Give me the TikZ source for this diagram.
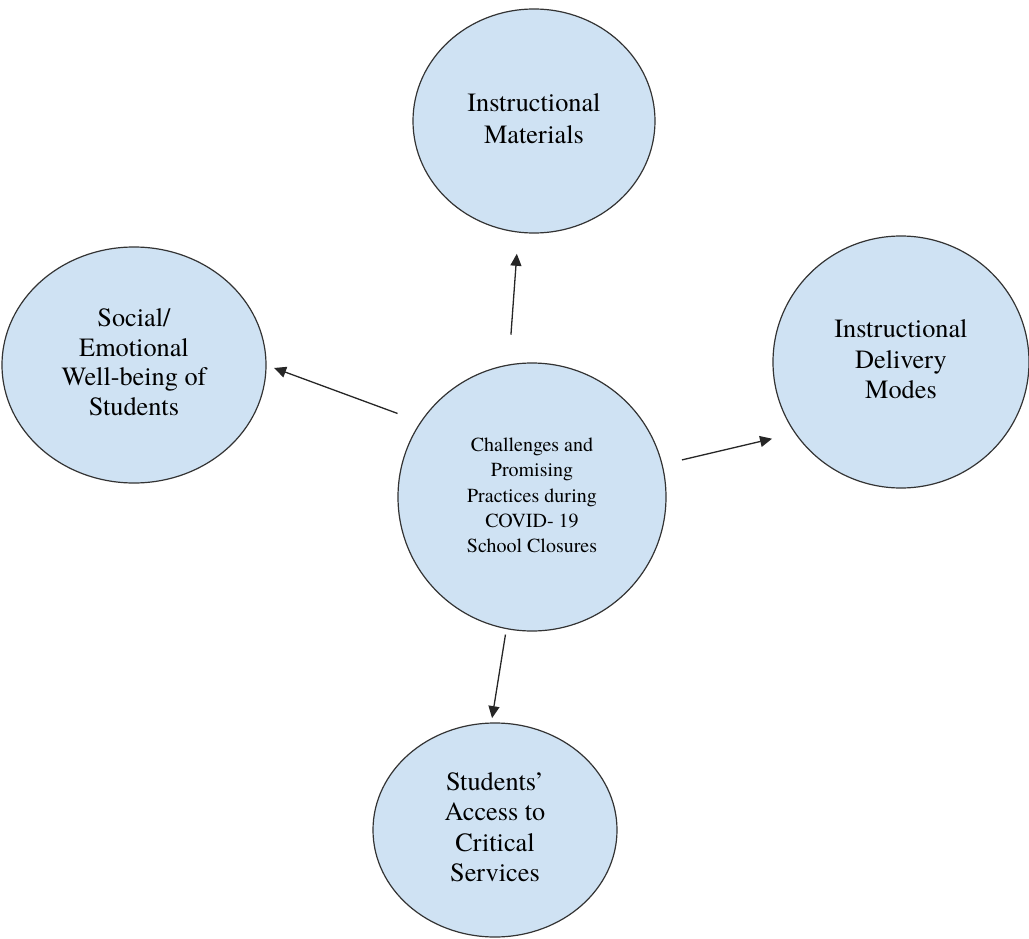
\documentclass[tikz,border=0pt]{standalone}
\usepackage{fontspec}
\usepackage{graphicx}
\newfontfamily\tnr{texgyretermes-regular.otf}
\newcommand{\bubtext}[3]{\scalebox{#1}{\renewcommand{\arraystretch}{#2}\begin{tabular}{@{}c@{}}#3\end{tabular}}}
\usetikzlibrary{shapes.geometric,arrows.meta}
\definecolor{bubfill}{HTML}{CFE2F3}
\definecolor{bubline}{HTML}{333333}
\tikzset{
  bub/.style={ellipse, draw=bubline, fill=bubfill, line width=1.2pt, inner sep=0pt, outer sep=0pt, font=\fontsize{26.3}{30.5}\selectfont\tnr},
  hub/.style={circle, draw=bubline, fill=bubfill, line width=1.2pt, inner sep=0pt, outer sep=0pt, minimum size=268pt, font=\fontsize{26.3}{30.5}\selectfont\tnr},
  link/.style={line width=1.3pt, draw=black!85, -{Triangle[length=12pt,width=11pt]}}
}
\begin{document}
\begin{tikzpicture}[x=1pt,y=-1pt]
\useasboundingbox (0,0) rectangle (1029,939);
\node[hub] (C) at (532,497) {\bubtext{0.76}{1.08}{Challenges and\\Promising\\Practices during\\COVID- 19\\School Closures}};
\node[bub, minimum width=242pt, minimum height=224pt] (T) at (534,121) {\bubtext{1.0}{1.04}{Instructional\\Materials}};
\node[bub, minimum width=264pt, minimum height=236pt] (L) at (134,365) {\bubtext{1.0}{0.97}{Social/\\Emotional\\Well-being of\\Students}};
\node[bub, minimum width=256pt, minimum height=252pt] (R) at (901,362) {\bubtext{1.0}{0.99}{Instructional\\Delivery\\Modes}};
\node[bub, minimum width=244pt, minimum height=214pt] (B) at (495,830) {\bubtext{1.0}{1.0}{Students’\\Access to\\Critical\\Services}};
\draw[link, shorten <=30.4pt, shorten >=21.8pt] (C.100.7) -- (T.262.9);
\draw[link, shorten <=24.9pt, shorten >=8.6pt] (C.146.5) -- (L.0.4);
\draw[link, shorten <=20.5pt, shorten >=24pt] (C.14.1) -- (R.214.9);
\draw[link, shorten <=6.1pt, shorten >=5pt] (C.259.7) -- (B.92.1);
\end{tikzpicture}
\end{document}
